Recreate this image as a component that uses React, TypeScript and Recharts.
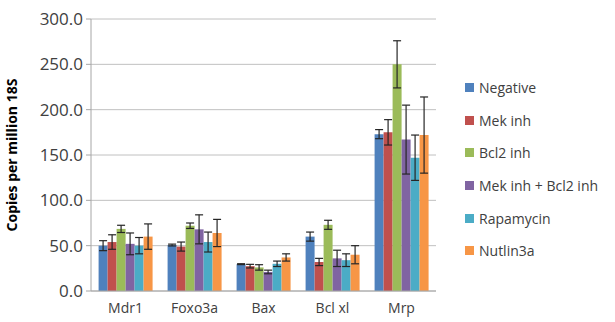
import { BarChart, Bar, XAxis, YAxis, CartesianGrid, Legend, ErrorBar } from "recharts";

const genes = ["Mdr1", "Foxo3a", "Bax", "Bcl xl", "Mrp"];

const negative = [50, 50.7, 29.6, 60, 173];
const negativeErr = [5.5, 1, 0.5, 5, 5];
const mekInh = [54, 49, 27.4, 32, 175];
const mekInhErr = [8, 5, 2, 4, 14];
const bcl2Inh = [68.5, 72, 26, 73, 250];
const bcl2InhErr = [4, 3, 3, 5, 26];
const mekBcl2 = [52, 68, 21, 36, 167];
const mekBcl2Err = [12, 16, 2, 9, 38];
const rapamycin = [50, 54, 30, 34, 147];
const rapamycinErr = [9, 11, 3, 7, 25];
const nutlin = [60, 64, 37, 40, 172];
const nutlinErr = [14, 15, 4, 10, 42];

const yTicks = [0, 50, 100, 150, 200, 250, 300];

const series = [
  { key: "neg", name: "Negative", color: "#4F81BD", values: negative, errors: negativeErr },
  { key: "mek", name: "Mek inh", color: "#C0504D", values: mekInh, errors: mekInhErr },
  { key: "bcl2", name: "Bcl2 inh", color: "#9BBB59", values: bcl2Inh, errors: bcl2InhErr },
  { key: "both", name: "Mek inh + Bcl2 inh", color: "#8064A2", values: mekBcl2, errors: mekBcl2Err },
  { key: "rapa", name: "Rapamycin", color: "#4BACC6", values: rapamycin, errors: rapamycinErr },
  { key: "nut", name: "Nutlin3a", color: "#F79646", values: nutlin, errors: nutlinErr },
];

const data = genes.map((gene, i) => {
  const row: Record<string, string | number> = { gene };
  series.forEach((s) => {
    row[s.key] = s.values[i];
    row[s.key + "Err"] = s.errors[i];
  });
  return row;
});

const FONT = "'Open Sans', sans-serif";
const TEXT = "#404040";

function LegendBox() {
  return (
    <div style={{ fontFamily: FONT, fontSize: 14, color: TEXT }}>
      {series.map((s) => (
        <div key={s.key} style={{ display: "flex", alignItems: "center", height: 32.7 }}>
          <span style={{ width: 9, height: 9, background: s.color, marginRight: 5, display: "inline-block" }} />
          {s.name}
        </div>
      ))}
    </div>
  );
}

export default function App() {
  return (
    <div style={{ position: "absolute", left: 0, top: 0, width: 615, height: 322, background: "#fff" }}>
      <BarChart
        width={615}
        height={322}
        data={data}
        margin={{ top: 19, right: 179, bottom: 0, left: 0 }}
        barCategoryGap="11%"
        barGap={0}
      >
        <CartesianGrid vertical={false} stroke="#C0C0C0" />
        <XAxis
          dataKey="gene"
          height={31}
          axisLine={{ stroke: "#A6A6A6" }}
          tickLine={false}
          tickSize={0}
          tickMargin={12}
          tick={{ fontFamily: FONT, fontSize: 14, fill: TEXT }}
        />
        <YAxis
          width={91}
          domain={[0, 300]}
          ticks={yTicks}
          interval={0}
          tickFormatter={(v: number) => v.toFixed(1)}
          axisLine={{ stroke: "#A6A6A6" }}
          tickLine={{ stroke: "#A6A6A6" }}
          tickSize={5}
          tickMargin={3}
          tick={{ fontFamily: FONT, fontSize: 17, fill: TEXT }}
          label={{
            value: "Copies per million 18S",
            angle: -90,
            position: "insideLeft",
            offset: 12,
            style: { textAnchor: "middle", fontFamily: FONT, fontSize: 14, fontWeight: 700, fill: "#000" },
          }}
        />
        <Legend
          layout="vertical"
          align="center"
          verticalAlign="middle"
          wrapperStyle={{ left: 465, top: 71, width: 150 }}
          content={() => <LegendBox />}
        />
        {series.map((s) => (
          <Bar key={s.key} dataKey={s.key} name={s.name} fill={s.color} isAnimationActive={false}>
            <ErrorBar dataKey={s.key + "Err"} width={4} stroke="#262626" strokeWidth={1.2} />
          </Bar>
        ))}
      </BarChart>
    </div>
  );
}
